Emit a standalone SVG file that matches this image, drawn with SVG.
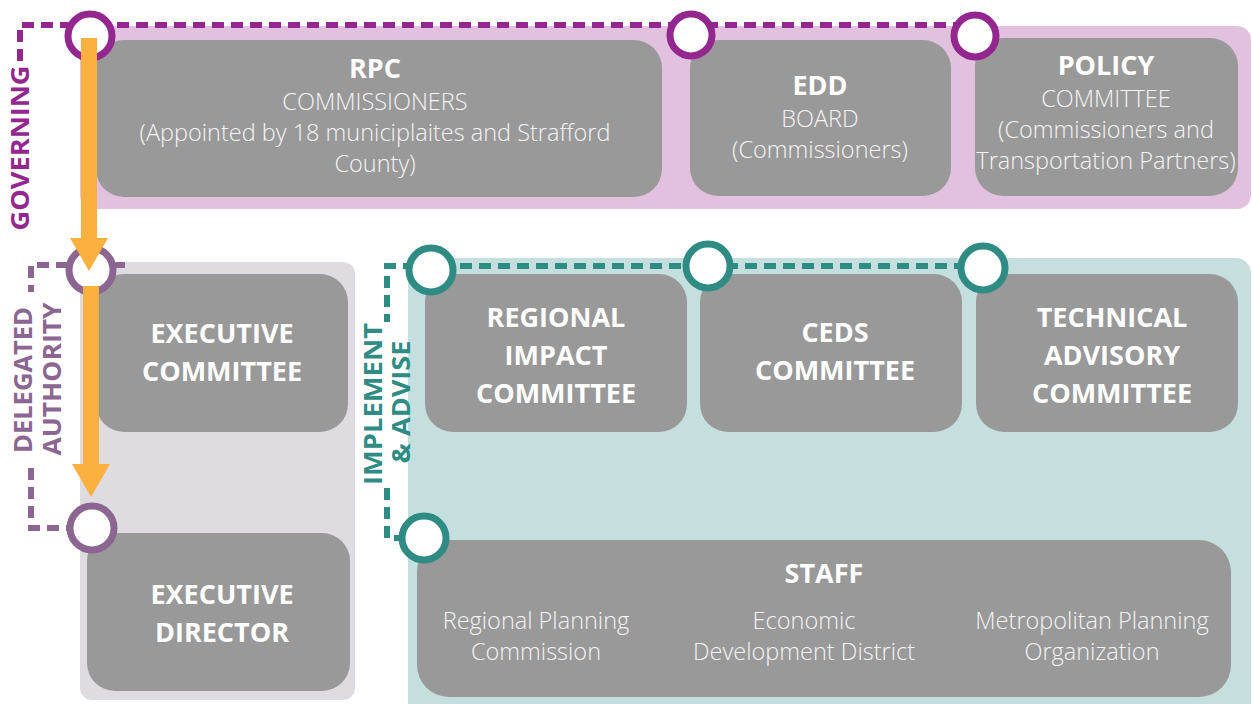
<svg xmlns="http://www.w3.org/2000/svg" width="1252" height="704" viewBox="0 0 1252 704">
<defs>
<style>
.box{fill:#999999}
.t{font-family:"Open Sans","Liberation Sans",sans-serif;fill:#ffffff;text-anchor:middle}
.b{font-weight:700;font-size:27px}
.l{font-weight:300;font-size:23.5px;fill:#f4f4f4}
.lab{font-family:"Open Sans","Liberation Sans",sans-serif;font-weight:700;font-size:25px;text-anchor:middle}
.ring{fill:#ffffff;stroke-width:7}
.pur{stroke:#93278f}
.del{stroke:#8b6690}
.tea{stroke:#2f8c85}
.dash{fill:none;stroke-width:6;stroke-dasharray:12 7}
.arrow{fill:#fbb040}
</style>
</defs>
<g id="bands">
<rect x="80" y="26" width="1171" height="183" rx="14" fill="#e2c1df"/>
<rect x="80" y="262" width="275" height="438" rx="12" fill="#dedce1"/>
<rect x="408" y="258" width="843" height="460" rx="15" fill="#c5dfdf"/>
</g>
<g id="connectors">
<path class="dash pur" d="M965 25 H20 V62"/>
<path class="dash del" d="M125 265 H31 V292 M31 468 V528 H70"/>
<path class="dash tea" d="M985 266 H387 V322 M387 488 V538 H405"/>
</g>
<g id="labels">
<text class="lab" fill="#93278f" transform="translate(29 148) rotate(-90)" textLength="165" lengthAdjust="spacingAndGlyphs">GOVERNING</text>
<text class="lab" fill="#8b6690" transform="translate(32 380) rotate(-90)" textLength="146" lengthAdjust="spacingAndGlyphs">DELEGATED</text>
<text class="lab" fill="#8b6690" transform="translate(61 379) rotate(-90)" textLength="153" lengthAdjust="spacingAndGlyphs">AUTHORITY</text>
<text class="lab" fill="#2f8c85" transform="translate(382 404) rotate(-90)" textLength="162" lengthAdjust="spacingAndGlyphs">IMPLEMENT</text>
<text class="lab" fill="#2f8c85" transform="translate(410 402) rotate(-90)" textLength="123" lengthAdjust="spacingAndGlyphs">&amp; ADVISE</text>
</g>
<g id="rpc">
<rect class="box" x="96" y="40" width="566" height="157" rx="28"/>
<text class="t b" x="375" y="78">RPC</text>
<text class="t l" x="375" y="110">COMMISSIONERS</text>
<text class="t l" x="375" y="141">(Appointed by 18 municiplaites and Strafford</text>
<text class="t l" x="375" y="172">County)</text>
</g>
<g id="edd">
<rect class="box" x="690" y="40" width="261" height="156" rx="28"/>
<text class="t b" x="820" y="95">EDD</text>
<text class="t l" x="820" y="127">BOARD</text>
<text class="t l" x="820" y="158">(Commissioners)</text>
</g>
<g id="policy">
<rect class="box" x="975" y="38" width="263" height="158" rx="28"/>
<text class="t b" x="1106" y="75">POLICY</text>
<text class="t l" x="1106" y="107">COMMITTEE</text>
<text class="t l" x="1106" y="138">(Commissioners and</text>
<text class="t l" x="1106" y="169">Transportation Partners)</text>
</g>
<g id="exec-committee">
<rect class="box" x="96" y="274" width="252" height="158" rx="28"/>
<text class="t b" x="222" y="343">EXECUTIVE</text>
<text class="t b" x="222" y="381">COMMITTEE</text>
</g>
<g id="exec-director">
<rect class="box" x="87" y="533" width="263" height="158" rx="28"/>
<text class="t b" x="222" y="604">EXECUTIVE</text>
<text class="t b" x="222" y="642">DIRECTOR</text>
</g>
<g id="regional-impact">
<rect class="box" x="425" y="274" width="262" height="158" rx="28"/>
<text class="t b" x="556" y="327">REGIONAL</text>
<text class="t b" x="556" y="365">IMPACT</text>
<text class="t b" x="556" y="403">COMMITTEE</text>
</g>
<g id="ceds">
<rect class="box" x="700" y="274" width="262" height="158" rx="28"/>
<text class="t b" x="835" y="342">CEDS</text>
<text class="t b" x="835" y="380">COMMITTEE</text>
</g>
<g id="tac">
<rect class="box" x="976" y="274" width="262" height="158" rx="28"/>
<text class="t b" x="1112" y="327">TECHNICAL</text>
<text class="t b" x="1112" y="365">ADVISORY</text>
<text class="t b" x="1112" y="403">COMMITTEE</text>
</g>
<g id="staff">
<rect class="box" x="417" y="540" width="814" height="157" rx="32"/>
<text class="t b" x="824" y="583">STAFF</text>
<text class="t l" x="536" y="629">Regional Planning</text>
<text class="t l" x="536" y="660">Commission</text>
<text class="t l" x="804" y="629">Economic</text>
<text class="t l" x="804" y="660">Development District</text>
<text class="t l" x="1092" y="629">Metropolitan Planning</text>
<text class="t l" x="1092" y="660">Organization</text>
</g>
<g id="rings">
<circle class="ring pur" cx="90" cy="36" r="22"/>
<circle class="ring pur" cx="691" cy="35" r="21"/>
<circle class="ring pur" cx="975" cy="36" r="21"/>
<circle class="ring del" cx="91" cy="270" r="22"/>
<circle class="ring del" cx="92" cy="528" r="22"/>
<circle class="ring tea" cx="431" cy="270" r="22"/>
<circle class="ring tea" cx="708" cy="266" r="22"/>
<circle class="ring tea" cx="983" cy="268" r="22"/>
<circle class="ring tea" cx="424" cy="538" r="22"/>
</g>
<g id="arrows">
<path class="arrow" d="M81 38 H97 V238 H108 L89 271 L70 238 H81 Z"/>
<path class="arrow" d="M83 286 H99 V464 H110 L91 497 L72 464 H83 Z"/>
</g>
</svg>
